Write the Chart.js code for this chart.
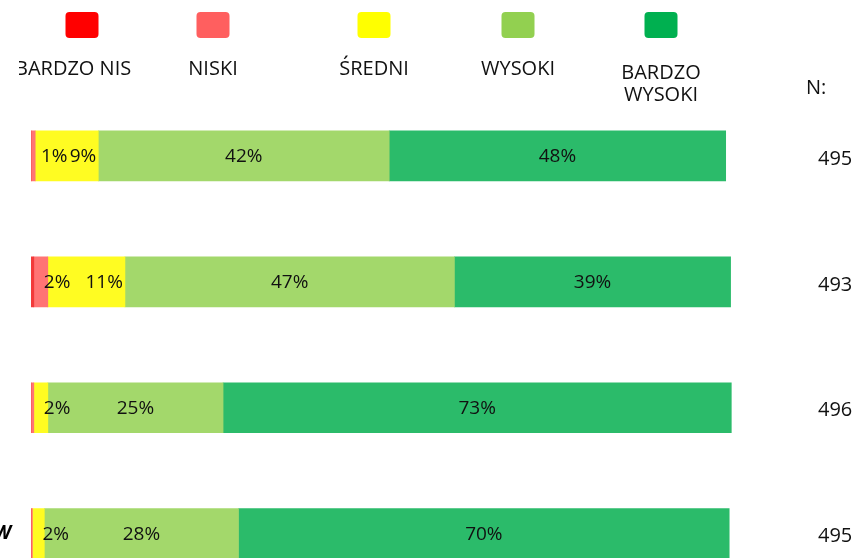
<!DOCTYPE html>
<html>
<head>
<meta charset="utf-8">
<script src="https://cdn.jsdelivr.net/npm/chart.js@4"></script>
<style>
  body { margin: 0; overflow: hidden; background: #fff; }
  #wrap { position: relative; width: 857px; height: 620px; }
</style>
</head>
<body>
<div id="wrap"><canvas id="stackChart"></canvas></div>
<script>
// Data
const categories = ['', '', '', 'W'];
const seriesNames = ['BARDZO NISKI', 'NISKI', 'ŚREDNI', 'WYSOKI', 'BARDZO WYSOKI'];
const legendText = [['BARDZO NISKI'], ['NISKI'], ['ŚREDNI'], ['WYSOKI'], ['BARDZO', 'WYSOKI']];
const veryLow = [0, 0.4, 0, 0];
const low = [0.6, 2, 0.4, 0.2];
const medium = [9, 11, 2, 1.7];
const high = [41.5, 47, 25, 27.7];
const veryHigh = [48, 39.4, 72.5, 70];
const nValues = [495, 493, 496, 495];

const barColors = ['#F23A3A', '#FF7474', '#FFFC22', '#A3D86B', '#2BBB6A'];
const legendColors = ['#FF0000', '#FF5F5F', '#FFFF00', '#92D050', '#00B050'];
const legendX = [82, 213, 374, 518, 661];
const FONT = "'Open Sans', 'Noto Sans', sans-serif";

// Legend with boxes above the labels, plus the N column
const overlay = {
    id: 'overlay',
    afterDraw(chart) {
        const { ctx, scales } = chart;
        ctx.save();

        // legend
        legendColors.forEach((c, i) => {
            const cx = legendX[i];
            ctx.fillStyle = c;
            ctx.beginPath();
            ctx.roundRect(cx - 16.5, 12, 33, 26, 4);
            ctx.fill();

            ctx.save();
            ctx.beginPath();
            ctx.rect(cx - 63, 40, 112, 80);
            ctx.clip();
            ctx.fillStyle = '#111';
            ctx.font = '20px ' + FONT;
            ctx.textAlign = 'center';
            ctx.textBaseline = 'middle';
            const lines = legendText[i];
            if (lines.length === 1) {
                ctx.fillText(lines[0], cx, 69);
            } else {
                ctx.fillText(lines[0], cx, 73);
                ctx.fillText(lines[1], cx, 95);
            }
            ctx.restore();
        });

        // N column
        ctx.fillStyle = '#111';
        ctx.font = '20px ' + FONT;
        ctx.textAlign = 'left';
        ctx.textBaseline = 'middle';
        ctx.fillText('N:', 806, 88);
        nValues.forEach((n, i) => {
            ctx.fillText(String(n), 818, scales.y.getPixelForValue(i) + 3);
        });

        // percentage labels inside the bars
        ctx.font = '19px ' + FONT;
        chart.data.datasets.forEach((ds, di) => {
            const meta = chart.getDatasetMeta(di);
            meta.data.forEach((bar, i) => {
                const v = ds.data[i];
                if (v < 0.5) return;
                const txt = Math.round(v) + '%';
                const start = bar.base, end = bar.x, w = end - start;
                if (w < 30) {
                    ctx.textAlign = 'left';
                    ctx.fillText(txt, start + 10, bar.y + 1);
                } else if (w < 100) {
                    ctx.textAlign = 'right';
                    ctx.fillText(txt, end - 2, bar.y + 1);
                } else {
                    ctx.textAlign = 'center';
                    ctx.fillText(txt, (start + end) / 2, bar.y + 1);
                }
            });
        });
        ctx.restore();
    }
};

const seriesData = [veryLow, low, medium, high, veryHigh];

new Chart(document.getElementById('stackChart'), {
    type: 'bar',
    data: {
        labels: categories,
        datasets: seriesData.map((d, i) => ({
            label: seriesNames[i],
            data: d,
            backgroundColor: barColors[i],
            borderWidth: 0,
            barThickness: 50
        }))
    },
    options: {
        indexAxis: 'y',
        responsive: true,
        maintainAspectRatio: false,
        animation: false,
        layout: { padding: { top: 93, bottom: 19, right: 125, left: 0 } },
        scales: {
            x: { stacked: true, min: 0, max: 100, display: false },
            y: {
                stacked: true,
                grid: { display: false },
                border: { display: false },
                ticks: {
                    padding: 12,
                    color: '#000',
                    font: { family: FONT, size: 19, weight: 'bold', style: 'italic' }
                },
                afterFit(axis) { axis.width = 31; }
            }
        },
        plugins: {
            legend: { display: false },
            tooltip: { enabled: false }
        }
    },
    plugins: [overlay]
});
</script>
</body>
</html>
